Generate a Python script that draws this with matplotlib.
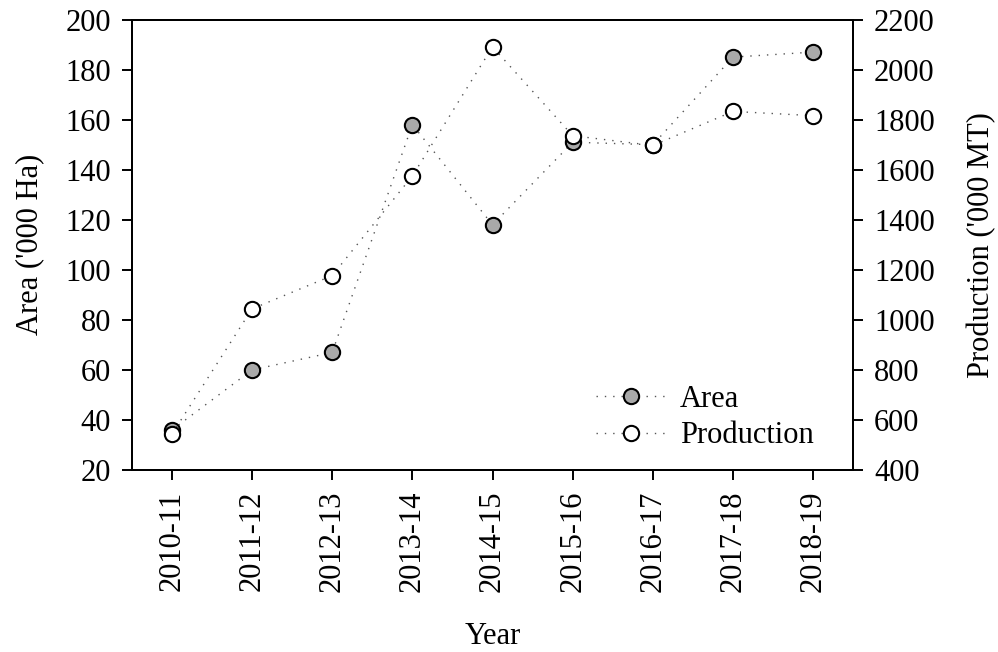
import matplotlib
matplotlib.use("Agg")
import matplotlib.pyplot as plt

years = ["2010-11", "2011-12", "2012-13", "2013-14", "2014-15",
         "2015-16", "2016-17", "2017-18", "2018-19"]
area = [36, 60, 67, 158, 118, 151, 150, 185, 187]
production = [543, 1044, 1177, 1575, 2091, 1736, 1697, 1833, 1816]

plt.rcParams['font.family'] = ['Liberation Serif', 'DejaVu Serif']
FS = 22
plt.rcParams['font.size'] = FS

fig = plt.figure(figsize=(9.98, 6.52), dpi=100)
ax = fig.add_axes([0.132, 0.279, 0.723, 0.691])
ax2 = ax.twinx()

x = list(range(len(years)))
line_kw = dict(linestyle=(0, (1, 5)), linewidth=1.0, color='#555555',
               marker='o', markersize=11, markeredgecolor='black',
               markeredgewidth=1.5)
la, = ax.plot(x, area, markerfacecolor='#a9a9a9', label='Area', **line_kw)
lp, = ax2.plot(x, production, markerfacecolor='white', label='Production', **line_kw)

ax.set_xlim(-0.5, 8.5)
ax.set_ylim(20, 200)
ax.set_yticks(range(20, 201, 20))
ax2.set_ylim(400, 2200)
ax2.set_yticks(range(400, 2201, 200))
ax.set_xticks(x)
ax.set_xticklabels(years, rotation=90)

for a in (ax, ax2):
    a.tick_params(direction='out', length=7, width=1.4, labelsize=FS, pad=8)
    for s in a.spines.values():
        s.set_linewidth(1.4)

ax.set_xlabel('Year', fontsize=FS, labelpad=21)
ax.set_ylabel("Area ('000 Ha)", fontsize=FS, labelpad=15)
ax2.set_ylabel("Production ('000 MT)", fontsize=FS, labelpad=23)

ax2.legend(handles=[la, lp], loc='lower left', frameon=False,
           bbox_to_anchor=(0.643, 0.044), handlelength=2.3, handletextpad=0.46,
           labelspacing=0.25, fontsize=FS, borderaxespad=0, borderpad=0)

fig.savefig('out.png', dpi=100)
